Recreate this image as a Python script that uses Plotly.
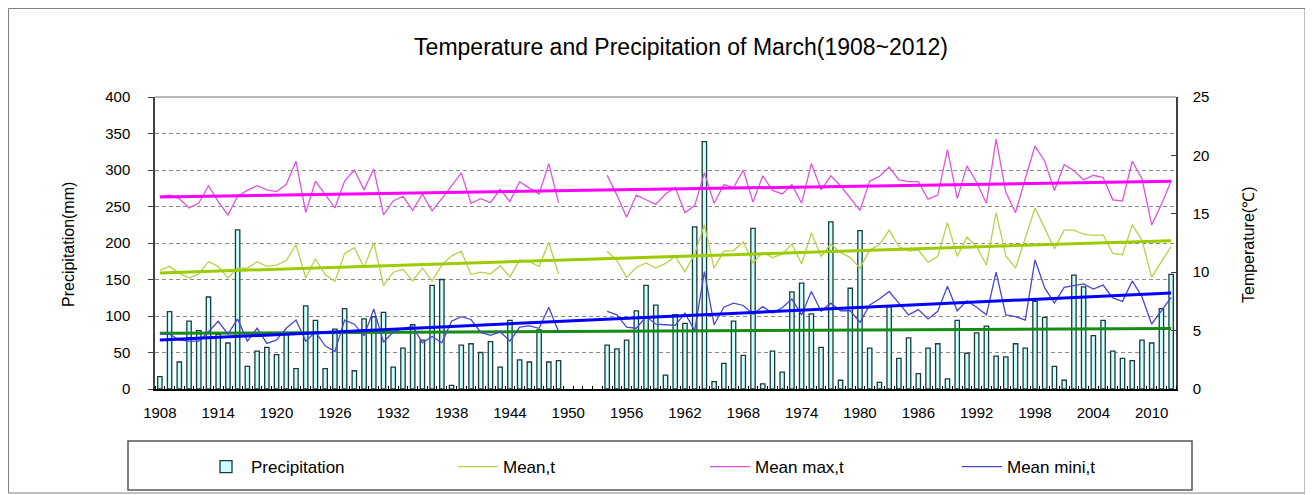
import numpy as np
import plotly.graph_objects as go

years = list(range(1908, 2013))

precip = [17, 106, 37, 93, 80, 126, 75, 63, 218, 31,
          52, 57, 47, 75, 28, 114, 94, 28, 82, 110,
          25, 96, 99, 105, 30, 56, 88, 67, 142, 150,
          5, 60, 62, 50, 65, 30, 94, 40, 37, 81,
          37, 39, None, None, None, None,
          60, 55, 67, 107, 142, 115, 19,
          102, 90, 222, 339, 10, 35, 93, 46, 220, 7,
          52, 23, 133, 145, 103, 57, 229, 12, 138, 217,
          56, 9, 113, 42, 70, 21, 56, 62, 14, 94,
          49, 77, 86, 45, 44, 62, 56, 120, 98, 31,
          12, 156, 140, 73, 94, 52, 42, 39, 67, 63,
          110, 157]

t_max = [16.5, 16.6, 16.3, 15.5, 15.9, 17.4, 16.05, 14.9, 16.5, 17.0,
         17.4, 17.05, 16.9, 17.5, 19.5, 15.1, 17.8, 16.7, 15.5, 17.8,
         18.75, 17.05, 18.85, 14.9, 16.1, 16.5, 15.3, 16.7, 15.25, 16.3,
         17.4, 18.5, 15.9, 16.3, 15.95, 17.1, 16.05, 17.75, 17.2, 16.7,
         19.3, 15.95, None, None, None, None,
         18.3, 16.6, 14.7, 16.6, 16.2, 15.8, 16.7,
         17.25, 15.1, 15.7, 18.5, 15.9, 17.5, 17.25, 18.75, 16.0, 18.25,
         17.0, 16.7, 17.5, 15.9, 19.3, 17.05, 18.25, 17.4, 16.4, 15.3,
         17.8, 18.2, 19.0, 17.9, 17.75, 17.75, 16.25, 16.6, 20.5, 16.3,
         19.1, 17.7, 15.9, 21.4, 16.85, 15.1, 18.0, 20.8, 19.5, 17.0,
         19.2, 18.7, 17.9, 18.3, 18.1, 16.2, 16.1, 19.5, 18.0, 14.05,
         15.8, 17.8]

t_mean = [10.15, 10.5, 9.9, 9.5, 9.85, 10.9, 10.5, 9.5, 10.35, 10.35,
          10.9, 10.5, 10.6, 11.0, 12.35, 9.5, 11.15, 9.8, 9.2, 11.6,
          12.1, 10.4, 12.55, 8.85, 10.0, 10.25, 9.25, 10.35, 9.25, 10.6,
          11.4, 11.8, 9.8, 10.0, 9.85, 10.55, 9.6, 11.05, 10.9, 10.5,
          12.55, 9.85, None, None, None, None,
          11.8, 11.0, 9.55, 10.4, 10.8, 10.35, 10.75,
          11.35, 10.05, 11.55, 14.05, 10.35, 11.8, 11.85, 12.6, 10.8, 11.7,
          11.25, 11.55, 12.4, 10.7, 13.35, 11.35, 12.4, 11.7, 11.25, 10.35,
          11.9, 12.35, 13.6, 12.2, 11.8, 11.9, 10.85, 11.35, 14.25, 11.35,
          13.0, 12.2, 10.6, 15.1, 11.4, 10.35, 12.9, 15.5, 13.75, 12.0,
          13.6, 13.6, 13.25, 13.15, 13.2, 11.6, 11.5, 14.05, 12.75, 9.55,
          10.9, 12.2]

t_min = [4.7, 4.7, 4.2, 4.1, 4.1, 4.9, 5.8, 4.7, 6.0, 4.1,
         5.2, 3.9, 4.2, 5.2, 5.9, 4.1, 4.9, 3.7, 3.2, 5.9,
         5.55, 4.55, 6.85, 4.0, 4.9, 5.2, 5.35, 3.95, 4.5, 3.95,
         5.8, 6.2, 5.95, 4.85, 4.6, 4.9, 4.1, 5.3, 5.4, 5.2,
         7.0, 4.9, None, None, None, None,
         6.65, 6.35, 5.3, 5.2, 6.2, 5.55, 5.5,
         5.45, 6.5, 5.0, 10.05, 5.5, 7.0, 7.35, 7.15, 6.4, 7.05,
         6.5, 6.95, 7.7, 6.35, 8.35, 6.65, 7.35, 6.7, 6.7, 5.7,
         7.2, 7.7, 8.35, 7.35, 6.35, 6.8, 6.0, 6.65, 8.8, 6.7,
         7.55, 7.0, 6.35, 10.0, 6.35, 6.2, 5.9, 11.05, 8.65, 7.35,
         8.7, 8.85, 9.0, 8.55, 8.9, 7.8, 7.5, 9.25, 7.9, 5.55,
         6.7, 7.85]

tick_years = list(range(1908, 2011, 6))
tick_labels = [str(y) for y in tick_years]

# page body has an 8px margin; figure is sized/offset to compensate
OFF = 8
W, H = 1305, 487
L, R, T, B = 147, 137, 89, 106
PW, PH = W - L - R, H - T - B


def px_x(px):
    return (px - OFF - L) / PW


def px_y(py):
    return (H - B - (py - OFF)) / PH


def trend(vals):
    xs = np.array([y for y, v in zip(years, vals) if v is not None], float)
    vs = np.array([v for v in vals if v is not None], float)
    k, c = np.polyfit(xs, vs, 1)
    ends = [years[0], years[-1]]
    return ends, [k * e + c for e in ends]


fig = go.Figure()

fig.add_trace(go.Bar(
    x=years, y=precip, name="Precipitation", width=0.45,
    marker=dict(color="#CCFFFF", line=dict(color="#1E3A3A", width=1.3)),
    yaxis="y"))

fig.add_trace(go.Scatter(
    x=years, y=t_mean, name="Mean,t", mode="lines", yaxis="y2",
    line=dict(color="#BCCF4A", width=1.3), connectgaps=False))
fig.add_trace(go.Scatter(
    x=years, y=t_max, name="Mean max,t", mode="lines", yaxis="y2",
    line=dict(color="#DD55DD", width=1.3), connectgaps=False))
fig.add_trace(go.Scatter(
    x=years, y=t_min, name="Mean mini,t", mode="lines", yaxis="y2",
    line=dict(color="#4848D0", width=1.3), connectgaps=False))

tx, ty = trend(precip)
fig.add_trace(go.Scatter(x=tx, y=ty, mode="lines", yaxis="y", showlegend=False,
                         line=dict(color="#168C16", width=3)))
for vals, col in [(t_mean, "#9ACC00"), (t_max, "#FF00FF"), (t_min, "#0000FF")]:
    tx, ty = trend(vals)
    fig.add_trace(go.Scatter(x=tx, y=ty, mode="lines", yaxis="y2", showlegend=False,
                             line=dict(color=col, width=3)))

font_family = "Liberation Sans, Arial, sans-serif"

fig.update_layout(
    width=W, height=H,
    margin=dict(l=L, r=R, t=T, b=B, autoexpand=False),
    paper_bgcolor="white", plot_bgcolor="white",
    font=dict(family=font_family, color="black", size=15),
    title=dict(text="Temperature and Precipitation of March(1908~2012)",
               x=(681 - OFF) / W, xref="container", xanchor="center",
               y=1 - (47 - OFF) / H, yref="container", yanchor="middle",
               font=dict(size=23, color="black")),
    bargap=0.5,
    showlegend=True,
    legend=dict(orientation="h", xref="container", x=(201 - OFF) / W, xanchor="left",
                y=px_y(467), yanchor="middle",
                entrywidth=197, entrywidthmode="pixels",
                font=dict(size=17), bgcolor="rgba(0,0,0,0)",
                itemwidth=40, traceorder="normal"),
    xaxis=dict(range=[1907.5, 2012.5], tickmode="array", tickvals=tick_years,
               ticktext=tick_labels, ticks="", showgrid=False, zeroline=False,
               showline=True, linecolor="black", linewidth=1.5,
               tickfont=dict(size=15), ticklabelstandoff=9,
               minor=dict(ticks="inside", tick0=1907.5, dtick=1, ticklen=3,
                          tickcolor="black", showgrid=False),
               automargin=False),
    yaxis=dict(range=[0, 400], dtick=50, tick0=0, showgrid=True,
               gridcolor="#8C8C8C", griddash="4px,3px", gridwidth=1,
               zeroline=False, showline=True, linecolor="#404040", linewidth=1.5,
               ticks="outside", ticklen=5, tickcolor="#404040",
               tickfont=dict(size=15), ticklabelstandoff=15,
               automargin=False),
    yaxis2=dict(range=[0, 25], dtick=5, tick0=0, overlaying="y", side="right",
                showgrid=False, zeroline=False, showline=True,
                linecolor="#404040", linewidth=1.5,
                ticks="inside", ticklen=5, tickcolor="#404040",
                tickfont=dict(size=15), ticklabelstandoff=12,
                automargin=False),
    annotations=[
        dict(text="Precipitation(mm)", xref="paper", yref="paper",
             x=px_x(68), y=px_y(245), xanchor="center", yanchor="middle",
             textangle=-90, showarrow=False, font=dict(size=16)),
        dict(text="Temperature(℃)", xref="paper", yref="paper",
             x=px_x(1248), y=px_y(245), xanchor="center", yanchor="middle",
             textangle=-90, showarrow=False, font=dict(size=16)),
    ],
    shapes=[
        dict(type="line", xref="paper", yref="paper", x0=0, x1=1, y0=1, y1=1,
             line=dict(color="#A0A0A0", width=1.5)),
        dict(type="rect", xref="paper", yref="paper",
             x0=px_x(128), x1=px_x(1192), y0=px_y(490), y1=px_y(441),
             line=dict(color="#555555", width=1.5)),
        dict(type="rect", xref="paper", yref="paper",
             x0=px_x(8.5), x1=px_x(1305), y0=px_y(493), y1=px_y(8.5),
             line=dict(color="#808080", width=1)),
    ],
)

fig.write_html("out.html")
